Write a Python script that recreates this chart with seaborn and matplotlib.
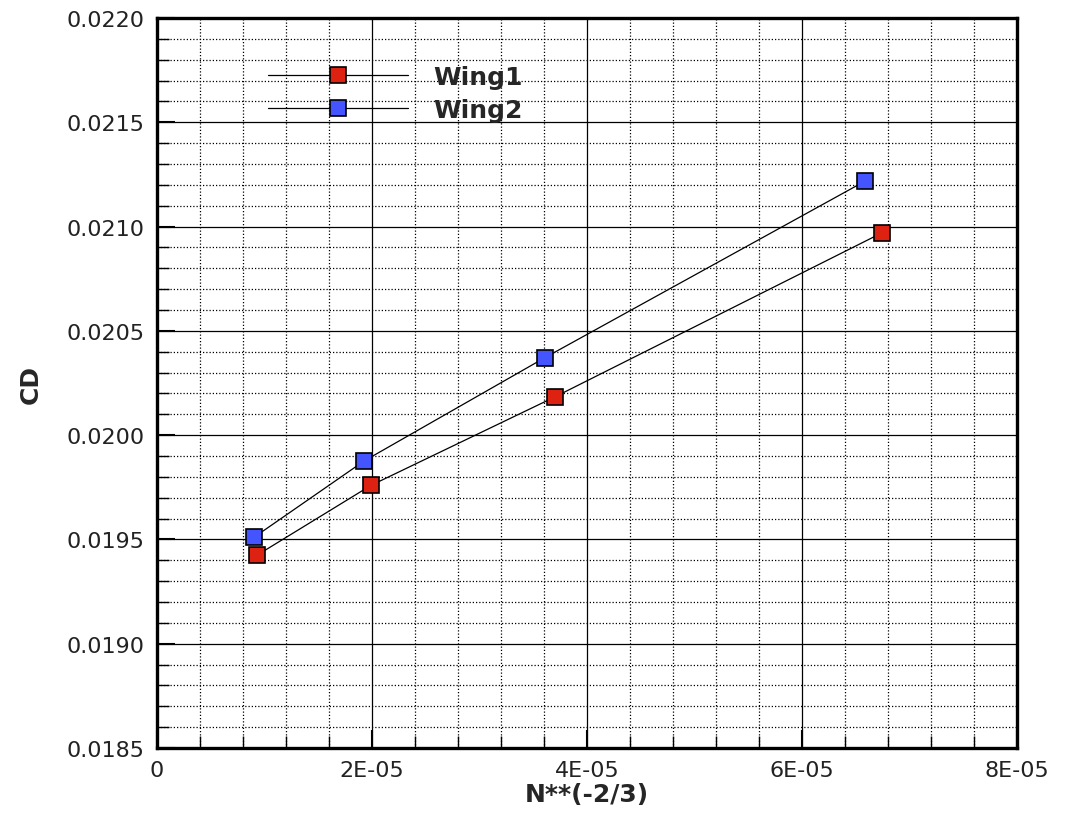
import numpy as np
import pandas as pd
import matplotlib
matplotlib.use("Agg")
import matplotlib.pyplot as plt
from matplotlib.lines import Line2D
from matplotlib.ticker import MultipleLocator, FixedLocator, FixedFormatter, FormatStrFormatter
import seaborn as sns

# ---- data ----
series_names = ["Wing1", "Wing2"]
wing1_x = [0.926e-5, 1.99e-5, 3.70e-5, 6.74e-5]
wing1_cd = [0.019423, 0.019759, 0.020183, 0.020969]
wing2_x = [0.902e-5, 1.926e-5, 3.61e-5, 6.59e-5]
wing2_cd = [0.019510, 0.019876, 0.020372, 0.021219]
xtick_values = [0, 2e-5, 4e-5, 6e-5, 8e-5]
xtick_labels = ["0", "2E-05", "4E-05", "6E-05", "8E-05"]
x_label = "N**(-2/3)"
y_label = "CD"

colors = {"Wing1": "#DD2211", "Wing2": "#4455FF"}

df = pd.concat([
    pd.DataFrame({"x": wing1_x, "cd": wing1_cd, "series": "Wing1"}),
    pd.DataFrame({"x": wing2_x, "cd": wing2_cd, "series": "Wing2"}),
])

sns.set_style("white")
plt.rcParams["font.family"] = ["DejaVu Sans"]

fig = plt.figure(figsize=(10.65, 8.2), dpi=100)
ax = fig.add_axes([157 / 1065, 1 - 749 / 820, (1017 - 157) / 1065, (749 - 19) / 820])

for name in series_names:
    sub = df[df["series"] == name]
    sns.lineplot(data=sub, x="x", y="cd", ax=ax, color="black", lw=0.9,
                 marker="s", markersize=11.5, markerfacecolor=colors[name],
                 markeredgecolor="black", markeredgewidth=1.2, sort=False,
                 legend=False, zorder=5)

ax.set_xlim(0, 8e-5)
ax.set_ylim(0.0185, 0.0220)

ax.xaxis.set_major_locator(FixedLocator(xtick_values))
ax.xaxis.set_major_formatter(FixedFormatter(xtick_labels))
ax.xaxis.set_minor_locator(MultipleLocator(4e-6))
ax.yaxis.set_major_locator(MultipleLocator(0.0005))
ax.yaxis.set_minor_locator(MultipleLocator(0.0001))
ax.yaxis.set_major_formatter(FormatStrFormatter("%.4f"))

ax.grid(which="major", color="black", lw=0.9, ls="-", zorder=1)
ax.grid(which="minor", color="black", lw=0.9, ls=(0, (1, 1.6)), zorder=1)
ax.set_axisbelow(True)

for s in ax.spines.values():
    s.set_visible(True)
    s.set_color("black")
    s.set_linewidth(2.4)

ax.tick_params(which="both", direction="in", left=True, bottom=True, top=False, right=False,
               colors="black", labelsize=16, labelcolor="#222222")
ax.tick_params(which="major", length=13, width=1.5, pad=9)
ax.tick_params(which="minor", length=8.5, width=1.0)

ax.set_xlabel(x_label, fontsize=18, fontweight="bold", labelpad=1)
ax.set_ylabel(y_label, fontsize=18, fontweight="bold", labelpad=17)

handles = [Line2D([0], [0], color="black", lw=0.9, marker="s", markersize=11.5,
                  markerfacecolor=colors[n], markeredgecolor="black", markeredgewidth=1.2)
           for n in series_names]
leg = fig.legend(handles, series_names, loc="upper left",
                 bbox_to_anchor=(268 / 1065, 1 - 66 / 820), frameon=False,
                 prop={"size": 18, "weight": "bold"}, handlelength=5.6,
                 handletextpad=1.0, borderpad=0, borderaxespad=0, labelspacing=0.36)

fig.savefig("out.png", dpi=100, facecolor="white")
